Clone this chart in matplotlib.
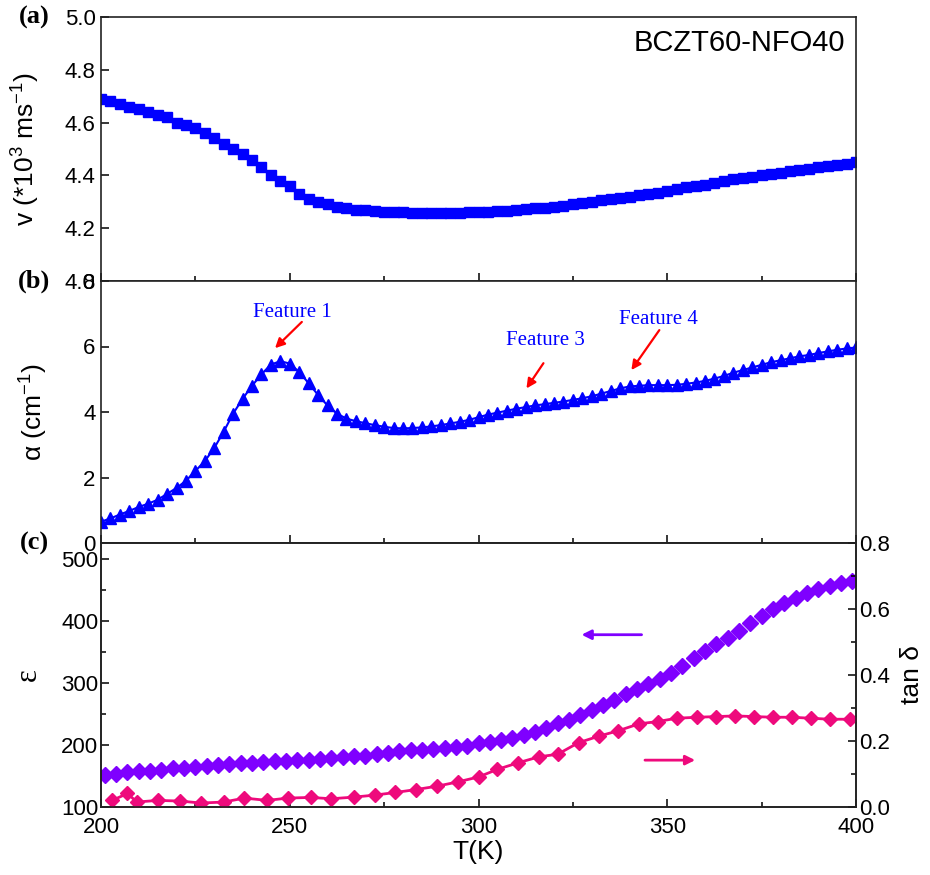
import numpy as np
import matplotlib
matplotlib.use("Agg")
import matplotlib.pyplot as plt
from matplotlib.ticker import MultipleLocator

plt.rcParams['font.family'] = ['Liberation Sans', 'DejaVu Sans']
plt.rcParams['mathtext.fontset'] = 'custom'
plt.rcParams['mathtext.rm'] = 'Liberation Sans'
plt.rcParams['mathtext.it'] = 'Liberation Sans:italic'

# (a) sound velocity, every 2.5 K from 200 K
v_T0, v_dT = 200.0, 2.5
velocity = [4.69, 4.68, 4.67, 4.66, 4.65, 4.64, 4.63, 4.62, 4.60, 4.59,
            4.58, 4.56, 4.54, 4.52, 4.50, 4.48, 4.46, 4.43, 4.40, 4.38,
            4.36, 4.33, 4.31, 4.30, 4.29, 4.28, 4.275, 4.27, 4.268, 4.265,
            4.263, 4.262, 4.26, 4.259, 4.258, 4.258, 4.258, 4.258, 4.259, 4.26,
            4.26, 4.262, 4.265, 4.267, 4.27, 4.272, 4.275, 4.278, 4.28, 4.285,
            4.29, 4.295, 4.30, 4.305, 4.31, 4.315, 4.32, 4.325, 4.33, 4.335,
            4.34, 4.347, 4.355, 4.36, 4.365, 4.372, 4.38, 4.385, 4.39, 4.395,
            4.40, 4.405, 4.41, 4.415, 4.42, 4.425, 4.43, 4.435, 4.44, 4.445,
            4.45]

# (b) attenuation, every 2.5 K from 200 K
a_T0, a_dT = 200.0, 2.5
alpha = [0.65, 0.75, 0.87, 0.98, 1.10, 1.20, 1.32, 1.50, 1.68, 1.90,
         2.20, 2.50, 2.90, 3.40, 3.95, 4.40, 4.80, 5.15, 5.45, 5.55,
         5.48, 5.22, 4.88, 4.52, 4.20, 3.95, 3.80, 3.72, 3.66, 3.60,
         3.55, 3.51, 3.50, 3.51, 3.53, 3.56, 3.60, 3.65, 3.70, 3.76,
         3.84, 3.92, 3.98, 4.04, 4.10, 4.15, 4.20, 4.24, 4.28, 4.32,
         4.37, 4.42, 4.48, 4.56, 4.64, 4.72, 4.78, 4.80, 4.82, 4.82,
         4.82, 4.83, 4.86, 4.90, 4.95, 5.02, 5.10, 5.20, 5.28, 5.36,
         5.44, 5.52, 5.58, 5.64, 5.70, 5.74, 5.80, 5.85, 5.90, 5.94,
         5.97]

# (c) permittivity, every 3 K from 201 K
e_T0, e_dT = 201.0, 3.0
epsilon = [151, 154, 156.5, 157.5, 158.5, 160.5, 162.5, 163.5, 164.5, 166,
           167.5, 169, 170.5, 171.5, 173, 174, 175, 175.5, 176.5, 177.5,
           179, 181, 182, 183, 185, 187, 191, 192.5, 192, 193.5,
           195, 196.5, 199, 202.5, 205, 207.5, 211, 215.5, 221, 228,
           235, 241, 248, 256, 264, 273, 282, 291, 299, 306,
           317, 328, 340, 352, 363, 373, 384, 397, 409, 420,
           429, 437, 445, 451, 456, 461, 465]

# (c) loss tangent
tan_T = [203, 207, 209.5, 215, 221, 226.5, 232.5, 238, 244, 249.5,
         255.5, 261, 267, 272.5, 278, 283.5, 289, 294.5, 300, 305,
         310.5, 316, 321, 326.5, 332, 337, 342.5, 347.5, 352.5, 358,
         363, 368, 373, 378, 383, 388, 393, 398.5]
tan_d = [0.020, 0.041, 0.015, 0.020, 0.018, 0.012, 0.015, 0.027, 0.020, 0.027,
         0.029, 0.025, 0.030, 0.036, 0.044, 0.053, 0.063, 0.076, 0.091, 0.114,
         0.134, 0.152, 0.160, 0.195, 0.215, 0.231, 0.252, 0.259, 0.269, 0.272,
         0.274, 0.276, 0.274, 0.272, 0.272, 0.269, 0.266, 0.266]

T_v = v_T0 + v_dT * np.arange(len(velocity))
T_a = a_T0 + a_dT * np.arange(len(alpha))
T_e = e_T0 + e_dT * np.arange(len(epsilon))

blue = '#0000ff'
violet = '#7f00ff'
pink = '#ee0a7c'
tick_fs = 16
lab_fs = 19

fig = plt.figure(figsize=(9.3, 8.75), dpi=100)
L, W = 101 / 930, 755 / 930
def box(top, bot):
    return [L, 1 - bot / 875, W, (bot - top) / 875]

ax1 = fig.add_axes(box(17, 281))
ax2 = fig.add_axes(box(281, 543))
ax3 = fig.add_axes(box(543, 807))
ax4 = ax3.twinx()

for ax in (ax1, ax2, ax3, ax4):
    for s in ax.spines.values():
        s.set_linewidth(1.2)
        s.set_color('#222222')
    ax.tick_params(which='both', direction='in', labelsize=tick_fs, width=1.1)
    ax.tick_params(which='major', length=6)
    ax.tick_params(which='minor', length=3.5)

for ax in (ax1, ax2, ax3):
    ax.set_xlim(200, 400)
    ax.xaxis.set_major_locator(MultipleLocator(50))
    ax.xaxis.set_minor_locator(MultipleLocator(25))
for ax in (ax1, ax2):
    ax.tick_params(axis='x', labelbottom=False)

# (a)
ax1.plot(T_v, velocity, 's', color=blue, ms=7.5, mec=blue)
ax1.set_ylim(4.0, 5.0)
ax1.set_yticks([4.0, 4.2, 4.4, 4.6, 4.8, 5.0], ['4.0', '4.2', '4.4', '4.6', '4.8', '5.0'])
ax1.set_ylabel('v (*10$^{3}$ ms$^{-1}$)', fontsize=lab_fs)
ax1.yaxis.set_label_coords(-0.078, 0.5)
ax1.text(0.985, 0.955, 'BCZT60-NFO40', transform=ax1.transAxes, ha='right', va='top', fontsize=21)

# (b)
ax2.plot(T_a, alpha, '-^', color=blue, ms=8, lw=1.5)
ax2.set_ylim(0, 8)
ax2.set_yticks([0, 2, 4, 6, 8])
ax2.set_ylabel('α (cm$^{-1}$)', fontsize=lab_fs)
ax2.yaxis.set_label_coords(-0.068, 0.5)
feat = dict(color=blue, fontsize=15, family=['Liberation Serif'], ha='center', va='center')
arr = dict(arrowstyle='-|>', color='red', lw=1.6, mutation_scale=14, shrinkA=0, shrinkB=0)
ax2.annotate('', xy=(246.1, 5.95), xytext=(253.2, 6.75), arrowprops=arr)
ax2.text(250.6, 7.03, 'Feature 1', **feat)
ax2.annotate('', xy=(312.7, 4.72), xytext=(317.2, 5.49), arrowprops=arr)
ax2.text(317.6, 6.18, 'Feature 3', **feat)
ax2.annotate('', xy=(340.5, 5.28), xytext=(347.9, 6.5), arrowprops=arr)
ax2.text(347.6, 6.81, 'Feature 4', **feat)

# (c)
ax3.plot(T_e, epsilon, 'D', color=violet, ms=8.5, mec=violet)
ax3.set_ylim(100, 526)
ax3.set_yticks([100, 200, 300, 400, 500])
ax3.yaxis.set_minor_locator(MultipleLocator(50))
ax3.set_ylabel('ε', fontsize=22, family=['Liberation Serif'])
ax3.yaxis.set_label_coords(-0.077, 0.5)
ax3.set_xlabel('T(K)', fontsize=lab_fs, labelpad=2)
ax3.set_xticks([200, 250, 300, 350, 400])
ax3.tick_params(axis='x', pad=7)

ax4.plot(tan_T, tan_d, '-D', color=pink, ms=7.5, lw=2)
ax4.set_ylim(0, 0.8)
ax4.set_yticks([0.0, 0.2, 0.4, 0.6, 0.8])
ax4.yaxis.set_minor_locator(MultipleLocator(0.1))
ax4.set_ylabel('tan δ', fontsize=lab_fs)
ax4.yaxis.set_label_coords(1.058, 0.5)
ax4.tick_params(axis='y', pad=2)
ax3.tick_params(axis='y', pad=2)
ax1.tick_params(axis='y', pad=4)
ax2.tick_params(axis='y', pad=4)

ax3.annotate('', xy=(327.3, 378), xytext=(343.2, 378),
             arrowprops=dict(arrowstyle='-|>', color=violet, lw=2, mutation_scale=14, shrinkA=0, shrinkB=0))
ax4.annotate('', xy=(357.4, 0.142), xytext=(344.1, 0.142),
             arrowprops=dict(arrowstyle='-|>', color=pink, lw=2, mutation_scale=14, shrinkA=0, shrinkB=0))

pan = dict(fontsize=19, fontweight='bold', family=['Liberation Serif'], ha='center', va='center')
fig.text(34 / 930, 1 - 17 / 875, '(a)', **pan)
fig.text(34 / 930, 1 - 281 / 875, '(b)', **pan)
fig.text(34 / 930, 1 - 543 / 875, '(c)', **pan)

fig.savefig('out.png', dpi=100)
